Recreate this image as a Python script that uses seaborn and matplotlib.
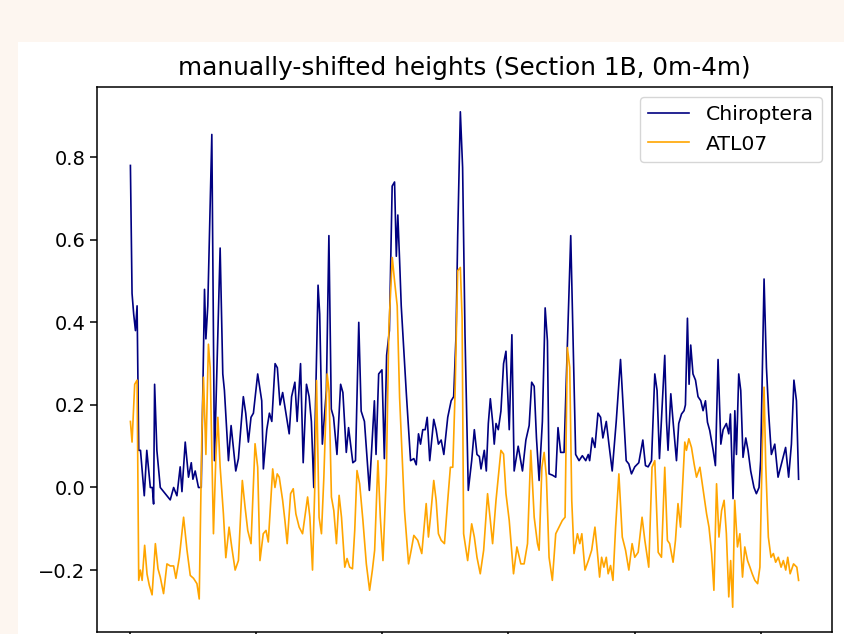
import numpy as np
import matplotlib
matplotlib.use("Agg")
from matplotlib import pyplot as plt
from matplotlib.patches import Rectangle
import seaborn as sns

# along-track position (index) and heights
chiro_x = [0, 1.3, 2.6, 4.0, 5.3, 6.6, 8.0, 11, 13, 15.8, 17.4, 18.4, 19.2, 21, 23.7,
           26.3, 29, 31.6, 34.3, 36.9, 39.5, 40.9, 43.5, 46.1, 48.3, 49.6, 51.4, 54.0,
           56.2, 58.8, 59.9, 61.4, 64.6, 66.7, 71.2, 73.3, 74.6, 77.8, 79.9, 83.6, 85.7,
           89.6, 91.5, 93.6, 95.7, 97.6, 101.0, 104.2, 105.5, 108.2, 110.3, 112.2, 114.8,
           116.6, 118.7, 120.8, 123.4, 126.0, 127.9, 130.5, 132.3, 135.0, 137.1, 139.7,
           141.8, 143.6, 145.5, 148.9, 150.2, 152.3, 155.5, 157.5, 159.4, 161.2, 163.9,
           166.8, 168.6, 171.3, 173.1, 176.5, 178.6, 181.2, 183.1, 185.7, 189.6, 193.6,
           194.9, 197.0, 199.6, 201.5, 203.3, 205.5, 207.7, 209.6, 211.0, 212.2, 213.6,
           214.9, 218.9, 222.3, 224.9, 226.8, 228.6, 230.2, 232.0, 233.9, 235.5, 237.5,
           240.7, 242.6, 244.4, 246.6, 248.7, 251.8, 254.5, 256.5, 258.4, 259.7, 261.8,
           263.6, 265.5, 268.1, 270.8, 272.9, 275.0, 276.9, 278.2, 280.8, 282.4, 284.0,
           285.6, 287.4, 288.7, 290.1, 291.9, 294.0, 296.1, 298.0, 300.6, 302.7, 304.5,
           307.7, 311.1, 313.8, 316.4, 318.4, 320.4, 322.2, 324.3, 326.9, 329.1, 330.9,
           332.2, 334.8, 337.5, 339.3, 341.4, 344.1, 346.7, 349.4, 351.2, 353.3, 356.0,
           358.6, 361.3, 363.3, 364.4, 366.5, 368.6, 371.0, 373.1, 374.9, 377.6, 379.7,
           382.3, 385.5, 388.9, 391.5, 393.4, 395.5, 397.6, 400.2, 403.4, 406.6, 408.7,
           410.8, 413.5, 416.1, 417.9, 419.8, 424.0, 425.4, 426.6, 428.8, 430.6, 433.3,
           435.1, 437.3, 439.3, 440.4, 442.0, 443.3, 444.6, 446.4, 448.4, 450.4, 452.6,
           454.4, 456.3, 457.9, 459.7, 462.4, 464.2, 466.3, 468.5, 470.3, 472.9, 474.8,
           476.1, 478.2, 479.6, 480.9, 482.7, 484.3, 486.1, 488.3, 490.1, 492.2, 494.8,
           496.7, 498.8, 500.1, 502.8, 504.7, 506.5, 508.6, 511.3, 513.9, 516.6, 519.9,
           522.3, 524.5, 526.5, 528.5, 530.2]
chiro_h = [0.78, 0.47, 0.42, 0.38, 0.44, 0.09, 0.09, -0.02, 0.09, 0.0, 0.0, -0.04, 0.25, 0.09, 0.0,
           -0.01, -0.02, -0.03, 0.0, -0.02, 0.05, -0.01, 0.11, 0.025, 0.06, 0.02, 0.04, 0.0,
           0.0, 0.48, 0.36, 0.44, 0.855, 0.065, 0.58, 0.275, 0.235, 0.065, 0.15, 0.04, 0.07,
           0.22, 0.18, 0.11, 0.17, 0.18, 0.275, 0.21, 0.045, 0.14, 0.18, 0.16, 0.30,
           0.29, 0.20, 0.23, 0.18, 0.13, 0.22, 0.255, 0.16, 0.30, 0.06, 0.25,
           0.22, 0.16, 0.0, 0.49, 0.42, 0.105, 0.235, 0.61, 0.19, 0.17, 0.08,
           0.25, 0.23, 0.085, 0.145, 0.06, 0.065, 0.40, 0.185, 0.16, -0.007, 0.21,
           0.08, 0.275, 0.285, 0.07, 0.32, 0.38, 0.73, 0.74, 0.56, 0.66, 0.55,
           0.44, 0.23, 0.065, 0.07, 0.055, 0.13, 0.105, 0.14, 0.14, 0.17, 0.065,
           0.165, 0.14, 0.105, 0.115, 0.08, 0.17, 0.21, 0.22, 0.37, 0.61, 0.91,
           0.775, 0.37, -0.007, 0.065, 0.14, 0.08, 0.075, 0.045, 0.09, 0.04, 0.155,
           0.215, 0.16, 0.105, 0.155, 0.14, 0.185, 0.30, 0.33, 0.14, 0.37, 0.04,
           0.10, 0.04, 0.115, 0.15, 0.255, 0.245, 0.12, 0.017, 0.16, 0.435, 0.355,
           0.033, 0.03, 0.025, 0.145, 0.085, 0.085, 0.345, 0.61, 0.37, 0.08, 0.065,
           0.077, 0.065, 0.08, 0.065, 0.12, 0.097, 0.18, 0.17, 0.12, 0.16, 0.105,
           0.04, 0.16, 0.31, 0.17, 0.065, 0.057, 0.033, 0.05, 0.06, 0.115, 0.053,
           0.05, 0.065, 0.275, 0.235, 0.07, 0.32, 0.16, 0.09, 0.227, 0.16, 0.065,
           0.155, 0.178, 0.186, 0.20, 0.41, 0.25, 0.345, 0.275, 0.26, 0.22, 0.21,
           0.186, 0.21, 0.158, 0.138, 0.09, 0.053, 0.31, 0.105, 0.14, 0.155, 0.13,
           0.178, -0.027, 0.186, 0.08, 0.275, 0.235, 0.073, 0.12, 0.09, 0.04, 0.0,
           -0.015, 0.0, 0.065, 0.505, 0.29, 0.178, 0.08, 0.105, 0.025, 0.057, 0.097,
           0.025, 0.105, 0.26, 0.21, 0.02]

atl_x = [0, 1.3, 3.4, 5.3, 6.6, 7.9, 9.3, 11.3, 13.2, 15.0, 17.2, 19.8, 21.9, 23.7, 26.3,
         29.0, 31.6, 34.3, 36.1, 38.8, 42.2, 44.9, 47.5, 50.1, 52.8, 54.6, 56.7, 58.0,
         59.9, 61.9, 63.3, 65.9, 67.8, 69.4, 71.2, 73.8, 75.7, 78.3, 80.4, 83.1, 85.7,
         88.8, 91.0, 93.1, 95.7, 98.9, 101.0, 102.8, 105.4, 107.6, 109.4, 112.9, 114.7,
         116.5, 118.1, 120.8, 122.6, 124.4, 127.1, 129.2, 131.3, 133.9, 136.6, 138.4,
         140.6, 142.4, 144.5, 146.3, 147.7, 149.7, 151.6, 153.5, 156.1, 157.6, 159.5,
         161.4, 163.5, 165.6, 167.5, 170.1, 171.9, 174.0, 176.2, 178.0, 179.8, 181.9,
         184.5, 187.2, 189.8, 192.0, 193.8, 196.4, 198.3, 200.4, 203.1, 205.1, 207.8,
         209.6, 211.7, 213.6, 215.4, 217.5, 220.7, 222.8, 224.9, 228.0, 231.2, 234.7,
         236.5, 238.1, 240.7, 242.6, 244.4, 246.6, 249.2, 251.8, 253.9, 255.8, 257.6,
         259.7, 261.8, 263.2, 264.4, 267.6, 270.8, 272.9, 275.0, 277.6, 280.3, 283.4,
         285.6, 287.4, 290.1, 291.9, 294.0, 296.1, 298.0, 300.6, 304.0, 306.7, 309.8,
         312.4, 315.1, 317.7, 320.4, 323.0, 324.3, 326.5, 328.3, 330.1, 332.2, 334.8,
         337.5, 340.1, 342.7, 344.9, 346.7, 348.6, 350.2, 352.0, 354.7, 356.6, 358.2,
         360.7, 363.4, 366.0, 368.6, 370.4, 372.3, 373.9, 375.7, 377.6, 379.1, 381.0,
         382.9, 385.0, 387.6, 390.3, 392.9, 395.5, 398.1, 400.2, 402.9, 406.0, 408.2,
         411.3, 413.9, 416.1, 418.8, 421.4, 424.0, 426.1, 427.9, 430.6, 432.5, 434.5,
         436.5, 438.5, 439.9, 441.2, 443.1, 445.2, 447.3, 449.2, 451.9, 454.5, 457.2,
         459.1, 461.2, 463.0, 465.1, 467.0, 469.1, 471.1, 472.9, 474.8, 476.3, 477.9,
         479.5, 481.7, 483.6, 485.7, 487.5, 489.7, 491.6, 493.4, 495.5, 497.7, 499.5,
         501.3, 502.8, 504.1, 506.2, 508.3, 510.2, 512.0, 514.1, 516.3, 518.1, 520.0,
         521.6, 523.5, 526.2, 528.8, 530.2]
atl_h = [0.16, 0.11, 0.25, 0.26, -0.225, -0.20, -0.225, -0.14, -0.21, -0.237, -0.26, -0.136, -0.197, -0.217, -0.257,
         -0.185, -0.19, -0.19, -0.22, -0.17, -0.072, -0.152, -0.213, -0.22, -0.233, -0.27, 0.13, 0.267,
         0.08, 0.347, 0.29, -0.112, 0.073, 0.17, 0.05, -0.064, -0.17, -0.096, -0.144, -0.20, -0.177,
         0.017, -0.048, -0.104, -0.136, 0.106, 0.049, -0.177, -0.112, -0.104, -0.132, 0.045, 0.0,
         0.033, 0.025, -0.031, -0.08, -0.136, -0.015, -0.003, -0.064, -0.096, -0.112, -0.072,
         -0.023, -0.072, -0.20, 0.0, 0.259, -0.072, -0.112, 0.025, 0.275, 0.235, -0.023,
         -0.056, -0.136, -0.019, -0.072, -0.193, -0.172, -0.193, -0.197, -0.104, 0.041, 0.009,
         -0.08, -0.185, -0.249, -0.20, -0.152, 0.065, -0.072, -0.177, 0.033, 0.388, 0.557,
         0.50, 0.44, 0.218, 0.09, -0.056, -0.185, -0.152, -0.116, -0.128, -0.16, -0.039,
         -0.12, -0.072, 0.017, -0.031, -0.112, -0.128, -0.136, -0.031, 0.049, 0.049, 0.227,
         0.525, 0.533, 0.41, -0.112, -0.177, -0.088, -0.12, -0.169, -0.209, -0.152, -0.015,
         -0.08, -0.136, -0.031, 0.025, 0.09, 0.081, -0.015, -0.08, -0.209, -0.144, -0.185,
         -0.185, -0.136, 0.09, -0.072, -0.136, -0.152, 0.049, 0.085, 0.025, -0.169, -0.225,
         -0.112, -0.096, -0.08, -0.072, 0.339, 0.291, -0.031, -0.16, -0.112, -0.136, -0.112,
         -0.20, -0.177, -0.152, -0.096, -0.152, -0.217, -0.169, -0.193, -0.169, -0.209, -0.189,
         -0.225, -0.096, 0.033, -0.12, -0.152, -0.20, -0.136, -0.169, -0.157, -0.072, -0.128,
         -0.193, 0.049, 0.065, -0.157, -0.169, 0.049, -0.128, -0.136, -0.181, -0.128, -0.039,
         -0.096, 0.025, 0.11, 0.09, 0.118, 0.097, 0.057, 0.025, 0.049, -0.007, -0.064,
         -0.096, -0.16, -0.249, 0.009, -0.12, -0.056, -0.031, -0.112, -0.265, -0.177, -0.29,
         -0.031, -0.144, -0.112, -0.217, -0.144, -0.177, -0.193, -0.209, -0.225, -0.233, -0.193,
         0.081, 0.243, 0.057, -0.12, -0.169, -0.16, -0.181, -0.169, -0.193, -0.177, -0.20,
         -0.169, -0.209, -0.185, -0.193, -0.225]

bg = '#fdf6f0'
fig = plt.figure(figsize=(8.45, 6.34), dpi=100, facecolor=bg)
# white figure panel sitting on the page background
panel = Rectangle((18 / 845, 0), 1, (634 - 42) / 634, transform=fig.transFigure,
                  facecolor='white', edgecolor='none', zorder=-10)
fig.add_artist(panel)

ax = fig.add_axes([97 / 845, 2 / 634, 735 / 845, 545 / 634])
ax.set_zorder(1)
sns.lineplot(x=chiro_x, y=chiro_h, ax=ax, color='navy', linewidth=1.2, label='Chiroptera')
sns.lineplot(x=atl_x, y=atl_h, ax=ax, color='orange', linewidth=1.2, label='ATL07')

ax.set_title('manually-shifted heights (Section 1B, 0m-4m)', fontsize=17.8, pad=9)
ax.tick_params(axis='both', labelsize=14, length=5, width=1.1)
ax.tick_params(axis='x', labelbottom=False)
for s in ax.spines.values():
    s.set_linewidth(1.1)
ax.legend(loc='upper right', fontsize=14.7, handlelength=2.0)

fig.savefig('out.png', dpi=100, facecolor=bg)
